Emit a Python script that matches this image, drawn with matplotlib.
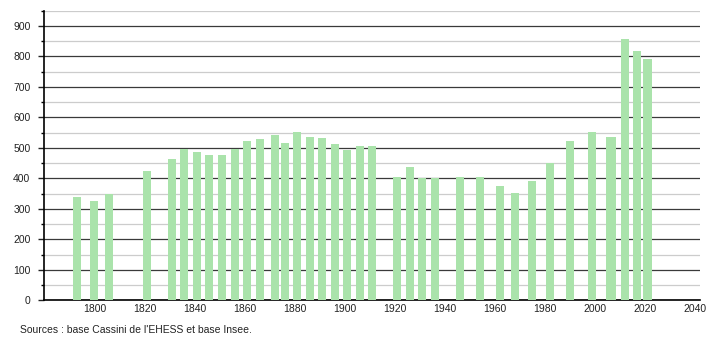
import matplotlib
matplotlib.use("Agg")
import matplotlib.pyplot as plt
from matplotlib.ticker import MultipleLocator

years = [1793, 1800, 1806, 1821, 1831, 1836, 1841, 1846, 1851, 1856, 1861, 1866,
         1872, 1876, 1881, 1886, 1891, 1896, 1901, 1906, 1911, 1921, 1926, 1931,
         1936, 1946, 1954, 1962, 1968, 1975, 1982, 1990, 1999, 2006, 2007, 2012,
         2017, 2021]
population = [339, 327, 349, 424, 464, 496, 487, 477, 477, 496, 523, 528,
              542, 515, 551, 537, 532, 513, 493, 506, 506, 405, 437, 401,
              401, 405, 405, 375, 352, 391, 449, 523, 552, 536, 536, 857,
              818, 792]
x_ticks = [1800, 1820, 1840, 1860, 1880, 1900, 1920, 1940, 1960, 1980, 2000, 2020, 2040]
y_ticks = [0, 100, 200, 300, 400, 500, 600, 700, 800, 900]
source_text = "Sources : base Cassini de l'EHESS et base Insee."

plt.rcParams['font.family'] = ['Liberation Sans', 'DejaVu Sans']

fig = plt.figure(figsize=(7.1, 3.4), dpi=100)
ax = fig.add_axes([0.0624, 0.1168, 0.9236, 0.8517])

ax.bar(years, population, width=3.2, color='#aae3ab', zorder=3)

ax.set_xlim(1780, 2042)
ax.set_ylim(0, 950)
ax.set_xticks(x_ticks)
ax.set_yticks(y_ticks)
ax.yaxis.set_minor_locator(MultipleLocator(50))

ax.grid(axis='y', which='major', color='#3a3a3a', linewidth=0.9, zorder=1)
ax.grid(axis='y', which='minor', color='#cccccc', linewidth=0.9, zorder=1)

for s in ['top', 'right']:
    ax.spines[s].set_visible(False)
ax.spines['left'].set_color('black')
ax.spines['bottom'].set_color('black')
ax.spines['left'].set_linewidth(1.2)
ax.spines['bottom'].set_linewidth(1.2)

ax.tick_params(axis='x', length=0, pad=3, labelsize=7.5, colors='#222222')
ax.tick_params(axis='y', which='major', length=4, width=1, pad=6, labelsize=7.5, colors='#222222')
ax.tick_params(axis='y', which='minor', length=2.5, width=1)

fig.text(0.028, 0.029, source_text, fontsize=7.5, color='#222222', ha='left', va='center')

fig.savefig('out.png', dpi=100)
